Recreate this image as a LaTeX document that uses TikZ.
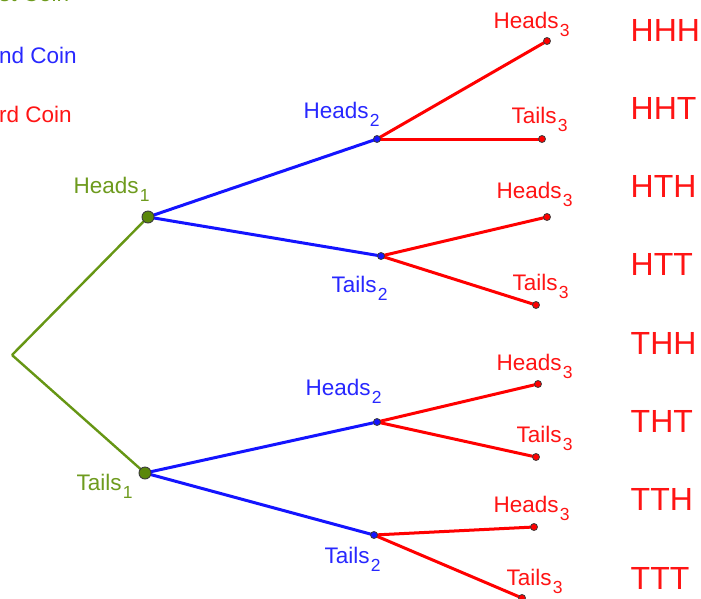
\documentclass[tikz,border=0pt]{standalone}
\usepackage{fontspec}
\setmainfont{Liberation Sans}
\definecolor{gline}{RGB}{102,150,20}
\definecolor{gtext}{RGB}{110,155,30}
\definecolor{gfill}{RGB}{90,135,10}
\definecolor{bline}{RGB}{20,20,255}
\definecolor{btext}{RGB}{40,40,255}
\definecolor{rline}{RGB}{255,0,0}
\definecolor{rtext}{RGB}{255,20,20}
\definecolor{dotline}{RGB}{60,60,60}
\newcommand{\mysub}[1]{\kern1.2pt\raisebox{-8.5pt}{\fontsize{17.5}{17.5}\selectfont #1}}
\begin{document}
\begin{tikzpicture}[x=1pt,y=-1pt,
  lab/.style={anchor=base west, inner sep=0pt, font=\fontsize{22.5}{25}\selectfont},
  glab/.style={lab, text=gtext},
  blab/.style={lab, text=btext},
  rlab/.style={lab, text=rtext},
  outc/.style={anchor=base west, inner sep=0pt, text=rtext, font=\fontsize{32}{36}\selectfont},
  gedge/.style={draw=gline, line width=2.4pt},
  bedge/.style={draw=bline, line width=3pt},
  redge/.style={draw=rline, line width=3pt},
  bigdot/.style={circle, draw=dotline, line width=0.9pt, fill=gfill, minimum size=12pt, inner sep=0pt},
  bdot/.style={circle, draw=dotline, line width=0.8pt, fill=bline, minimum size=7pt, inner sep=0pt},
  rdot/.style={circle, draw=dotline, line width=0.8pt, fill=rline, minimum size=7pt, inner sep=0pt}]
\useasboundingbox (0,0) rectangle (701,598);
\clip (0,0) rectangle (701,598);
\fill[white] (0,0) rectangle (701,598);

% positions
\coordinate (root) at (12,355);
\coordinate (h1) at (148,217);
\coordinate (t1) at (145,473);
\coordinate (hh) at (377,139);
\coordinate (ht) at (381,256);
\coordinate (th) at (377,422);
\coordinate (tt) at (374,535);
\coordinate (hhh) at (547,41);
\coordinate (hht) at (542,139);
\coordinate (hth) at (547,217);
\coordinate (htt) at (536,305);
\coordinate (thh) at (538,384);
\coordinate (tht) at (536,457);
\coordinate (tth) at (534,527);
\coordinate (ttt) at (522,598);

% edges
\draw[gedge] (root) -- (h1);
\draw[gedge] (root) -- (t1);
\draw[bedge] (h1) -- (hh);
\draw[bedge] (h1) -- (ht);
\draw[bedge] (t1) -- (th);
\draw[bedge] (t1) -- (tt);
\draw[redge] (hh) -- (hhh);
\draw[redge] (hh) -- (hht);
\draw[redge] (ht) -- (hth);
\draw[redge] (ht) -- (htt);
\draw[redge] (th) -- (thh);
\draw[redge] (th) -- (tht);
\draw[redge] (tt) -- (tth);
\draw[redge] (tt) -- (ttt);

% dots
\node[bigdot] (h1dot) at (h1) {};
\node[bigdot] (t1dot) at (t1) {};
\node[bdot] (hhdot) at (hh) {};
\node[bdot] (htdot) at (ht) {};
\node[bdot] (thdot) at (th) {};
\node[bdot] (ttdot) at (tt) {};
\node[rdot] (hhhdot) at (hhh) {};
\node[rdot] (hhtdot) at (hht) {};
\node[rdot] (hthdot) at (hth) {};
\node[rdot] (httdot) at (htt) {};
\node[rdot] (thhdot) at (thh) {};
\node[rdot] (thtdot) at (tht) {};
\node[rdot] (tthdot) at (tth) {};
\node[rdot] (tttdot) at (ttt) {};

% legend (cropped at the top-left edge, as in the reference)
\node[glab] (leg1) at (-1,1) {st Coin};
\node[blab] (leg2) at (-1,63) {nd Coin};
\node[rlab] (leg3) at (-1,122) {rd Coin};

% branch labels
\node[glab] (lh1) at (73.5,193) {Heads\mysub{1}};
\node[glab] (lt1) at (76.5,490) {Tails\mysub{1}};
\node[blab] (lhh) at (303.5,118) {Heads\mysub{2}};
\node[blab] (lht) at (331.5,292) {Tails\mysub{2}};
\node[blab] (lth) at (305.5,395) {Heads\mysub{2}};
\node[blab] (ltt) at (324.5,563) {Tails\mysub{2}};
\node[rlab] (lhhh) at (493.5,28) {Heads\mysub{3}};
\node[rlab] (lhht) at (511.5,123) {Tails\mysub{3}};
\node[rlab] (lhth) at (496.5,198) {Heads\mysub{3}};
\node[rlab] (lhtt) at (512.5,290) {Tails\mysub{3}};
\node[rlab] (lthh) at (496.5,370) {Heads\mysub{3}};
\node[rlab] (ltht) at (516.5,442) {Tails\mysub{3}};
\node[rlab] (ltth) at (493.5,512) {Heads\mysub{3}};
\node[rlab] (lttt) at (506.5,585) {Tails\mysub{3}};

% outcomes
\node[outc] (o1) at (630.5,41) {HHH};
\node[outc] (o2) at (630.5,119.3) {HHT};
\node[outc] (o3) at (630.5,197.6) {HTH};
\node[outc] (o4) at (630.5,275.9) {HTT};
\node[outc] (o5) at (630.5,354.1) {THH};
\node[outc] (o6) at (630.5,432.4) {THT};
\node[outc] (o7) at (630.5,510.7) {TTH};
\node[outc] (o8) at (630.5,589) {TTT};
\end{tikzpicture}
\end{document}
